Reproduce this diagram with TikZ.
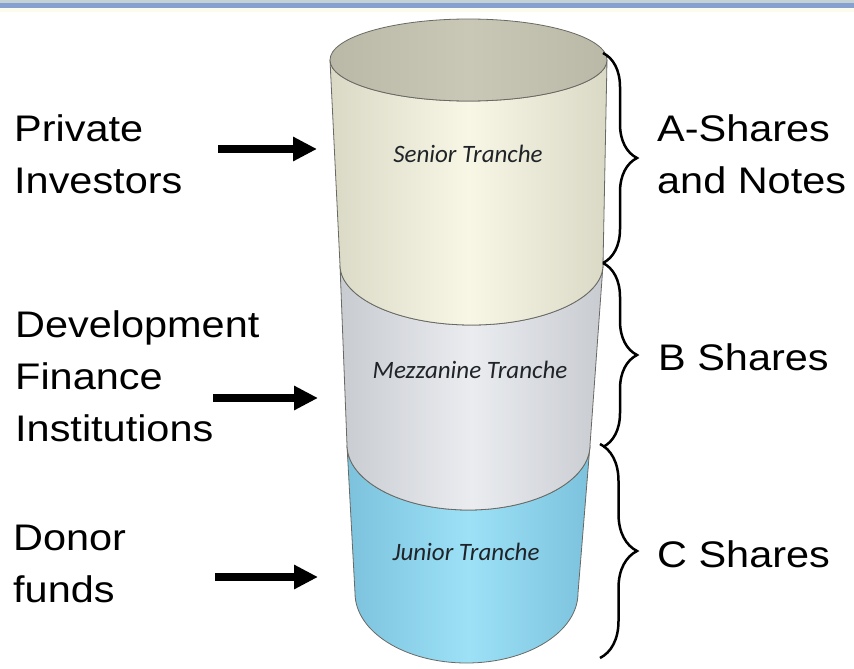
\documentclass[tikz,border=0pt]{standalone}
\usepackage{fontspec}
\setmainfont{Liberation Sans}[FakeStretch=1.12]
\newfontfamily\trfont{Carlito}
\usetikzlibrary{arrows.meta, positioning, decorations.pathreplacing}
\definecolor{bandgray}{RGB}{196,210,214}
\definecolor{bandblue}{RGB}{134,160,208}
\definecolor{bandpale}{RGB}{252,252,236}
\definecolor{rimgray}{RGB}{105,105,100}
\definecolor{lidedge}{RGB}{186,184,166}
\definecolor{lidmid}{RGB}{201,199,182}
\definecolor{snedge}{RGB}{218,217,198}
\definecolor{snmid}{RGB}{248,247,230}
\definecolor{mzedge}{RGB}{200,203,208}
\definecolor{mzmid}{RGB}{234,236,240}
\definecolor{jredge}{RGB}{124,194,221}
\definecolor{jrmid}{RGB}{156,225,246}
\definecolor{trtext}{RGB}{32,36,40}
\tikzstyle{every node}=[font=\fontsize{37}{52}\selectfont, inner sep=0pt]
\tikzstyle{who}=[align=left, anchor=base west]
\tikzstyle{tranche}=[font=\trfont\itshape\fontsize{25}{29}\selectfont, text=trtext, anchor=base]
\tikzstyle{feed}=[-{Triangle[length=24pt,width=23pt]}, line width=8pt]
\tikzstyle{share}=[decorate, decoration={brace, amplitude=34pt}, line width=2.5pt]
\tikzstyle{rim}=[draw=rimgray, line width=0.8pt]
\begin{document}
\begin{tikzpicture}[x=1pt,y=-1pt]
  \useasboundingbox (0,0) rectangle (854,669);
  % window band
  \fill[bandgray] (0,0) rectangle (854,3);
  \fill[bandblue] (0,3) rectangle (854,8);
  \fill[bandpale] (0,8) rectangle (854,12);
  % cylinder, bottom to top
  \path[rim, left color=jredge, right color=jredge, middle color=jrmid]
    (347,445) -- (355,593) arc[start angle=180, end angle=0, x radius=111.5, y radius=70]
    -- (590,445) arc[start angle=0, end angle=180, x radius=121.5, y radius=65] -- cycle;
  \path[rim, left color=mzedge, right color=mzedge, middle color=mzmid]
    (340,265) -- (347,445) arc[start angle=180, end angle=0, x radius=121.5, y radius=65]
    -- (603,265) arc[start angle=0, end angle=180, x radius=131.5, y radius=60] -- cycle;
  \path[rim, left color=snedge, right color=snedge, middle color=snmid]
    (330,60) -- (340,265) arc[start angle=180, end angle=0, x radius=131.5, y radius=60]
    -- (607,60) arc[start angle=0, end angle=180, x radius=138.5, y radius=41] -- cycle;
  \path[rim, left color=lidedge, right color=lidedge, middle color=lidmid]
    (468.5,60) ellipse[x radius=138.5, y radius=41];
  \node[tranche] (senior) at (468,162) {Senior Tranche};
  \node[tranche] (mezz) at (470,378) {Mezzanine Tranche};
  \node[tranche] (junior) at (466,560) {Junior Tranche};
  % who puts money in (base = last line)
  \node[who] (pinv) at (14,193) {Private\\Investors};
  \node[who] (dfi) at (15,441) {Development\\Finance\\Institutions};
  \node[who] (donor) at (13,602) {Donor\\funds};
  \coordinate (f1) at (218,149);
  \coordinate (t1) at (317,149);
  \coordinate (f2) at (213,398);
  \coordinate (t2) at (318,398);
  \coordinate (f3) at (215,577);
  \coordinate (t3) at (318,577);
  \draw[feed] (f1) -- (t1);
  \draw[feed] (f2) -- (t2);
  \draw[feed] (f3) -- (t3);
  % share classes
  \coordinate (a1) at (603,53);
  \coordinate (a2) at (603,263);
  \coordinate (b2) at (603,447);
  \coordinate (c1) at (600,444);
  \coordinate (c2) at (600,658);
  \draw[share] (a1) -- (a2);
  \draw[share] (a2) -- (b2);
  \draw[share, decoration={amplitude=37pt}] (c1) -- (c2);
  \node[who] (ashares) at (657,193) {A-Shares\\and Notes};
  \node[who] (bshares) at (658,370) {B Shares};
  \node[who] (cshares) at (657,567) {C Shares};
\end{tikzpicture}
\end{document}
